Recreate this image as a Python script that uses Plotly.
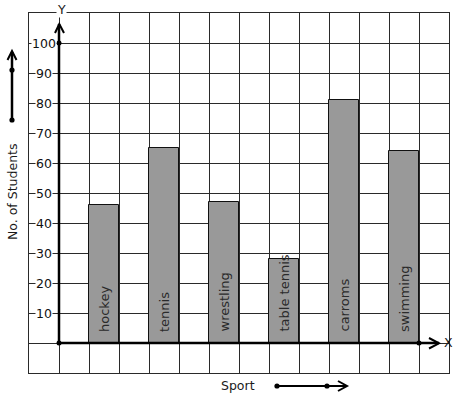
import plotly.graph_objects as go

# ---- data ----
sports = ["hockey", "tennis", "wrestling", "table tennis", "carroms", "swimming"]
students = [46, 65, 47, 28, 81, 64]
bar_x = [1.5, 3.5, 5.5, 7.5, 9.5, 11.5]
y_tick_values = [10, 20, 30, 40, 50, 60, 70, 80, 90, 100]
y_tick_labels = ["10", "20", "30", "40", "50", "60", "70", "80", "90", "100"]

# ---- layout geometry (pixels) ----
FW, FH = 457, 399
L, R, T, B = 29, 449, 13, 373
W, H = R - L, B - T
FONT = "DejaVu Sans"
GRID = "#2a2a2a"

def pxx(x):
    return (x - L) / W

def pxy(y):
    return (B - y) / H

fig = go.Figure()

fig.add_trace(go.Bar(
    x=bar_x, y=students, width=1,
    marker=dict(color="#999999", line=dict(color="#111111", width=1)),
    hoverinfo="skip", showlegend=False,
))

# axis dots
fig.add_trace(go.Scatter(
    x=[0, 0, 12], y=[0, 100, 0], mode="markers",
    marker=dict(color="black", size=5), showlegend=False, hoverinfo="skip",
    cliponaxis=False,
))

shapes = []
shapes.append(dict(type="line", xref="x", yref="y", x0=0, y0=0, x1=0, y1=106.3,
                   line=dict(color="black", width=2.5)))
shapes.append(dict(type="line", xref="x", yref="y", x0=0, y0=0, x1=12.67, y1=0,
                   line=dict(color="black", width=2.5)))

def chevron(points, w=2):
    path = "M {},{} L {},{} L {},{}".format(
        pxx(points[0][0]), pxy(points[0][1]),
        pxx(points[1][0]), pxy(points[1][1]),
        pxx(points[2][0]), pxy(points[2][1]))
    return dict(type="path", xref="paper", yref="paper", path=path,
                line=dict(color="black", width=w))

shapes.append(chevron([(55, 33), (59.3, 24), (64, 33)]))
shapes.append(chevron([(429, 338), (439, 343.3), (429, 348.5)]))
shapes.append(dict(type="line", xref="paper", yref="paper",
                   x0=pxx(12), y0=pxy(120), x1=pxx(12), y1=pxy(52),
                   line=dict(color="black", width=2.5)))
shapes.append(chevron([(7.5, 60), (12, 51), (16.5, 60)]))
shapes.append(dict(type="line", xref="paper", yref="paper",
                   x0=pxx(277), y0=pxy(386), x1=pxx(346), y1=pxy(386),
                   line=dict(color="black", width=2)))
shapes.append(chevron([(338, 381), (347, 386), (338, 391)]))

def dot(cx, cy, r=2.6):
    return dict(type="circle", xref="paper", yref="paper",
                x0=pxx(cx - r), x1=pxx(cx + r), y0=pxy(cy + r), y1=pxy(cy - r),
                fillcolor="black", line=dict(color="black", width=0))

shapes += [dot(12, 70), dot(12, 120), dot(277, 386), dot(327, 386)]

annotations = []
for v, t in zip(y_tick_values, y_tick_labels):
    annotations.append(dict(x=-0.5, y=v, xref="x", yref="y", text=t,
                            xanchor="center", yanchor="middle",
                            showarrow=False, bgcolor="white", borderpad=0,
                            font=dict(family=FONT, size=12.5, color="#111111")))
for xv, name in zip(bar_x, sports):
    annotations.append(dict(x=xv, y=0, xref="x", yref="y", text=name,
                            textangle=-90, showarrow=False, yanchor="bottom",
                            xanchor="center", yshift=9,
                            font=dict(family=FONT, size=13, color="#2a2a2a")))

def label(x, y, text, angle=0, bg=None, size=12.5):
    d = dict(x=pxx(x), y=pxy(y), xref="paper", yref="paper", text=text,
             xanchor="center", yanchor="middle", textangle=angle,
             showarrow=False, borderpad=0,
             font=dict(family=FONT, size=size, color="#1a1a1a"))
    if bg:
        d["bgcolor"] = bg
    return d

annotations.append(label(61, 9, "Y", bg="white"))
annotations.append(label(448, 342, "X"))
annotations.append(label(12, 192, "No. of Students", angle=-90))
annotations.append(label(238, 385, "Sport"))

fig.update_layout(
    width=FW, height=FH, autosize=False,
    margin=dict(l=L, r=FW - R, t=T, b=FH - B, pad=0),
    paper_bgcolor="white", plot_bgcolor="white",
    shapes=shapes, annotations=annotations, showlegend=False,
    xaxis=dict(range=[-1, 13], dtick=1, tick0=-1, showgrid=True, gridcolor=GRID,
               gridwidth=1, zeroline=False, showticklabels=False, ticks="",
               showline=True, linecolor=GRID, linewidth=1, mirror=True, fixedrange=True),
    yaxis=dict(range=[-10, 110], dtick=10, tick0=-10, showgrid=True, gridcolor=GRID,
               gridwidth=1, zeroline=False, showticklabels=False, ticks="",
               showline=True, linecolor=GRID, linewidth=1, mirror=True, fixedrange=True),
    bargap=0,
)

fig.write_html("out.html", config={"displayModeBar": False},
               post_script="document.body.style.margin='0';document.body.style.overflow='hidden';")
